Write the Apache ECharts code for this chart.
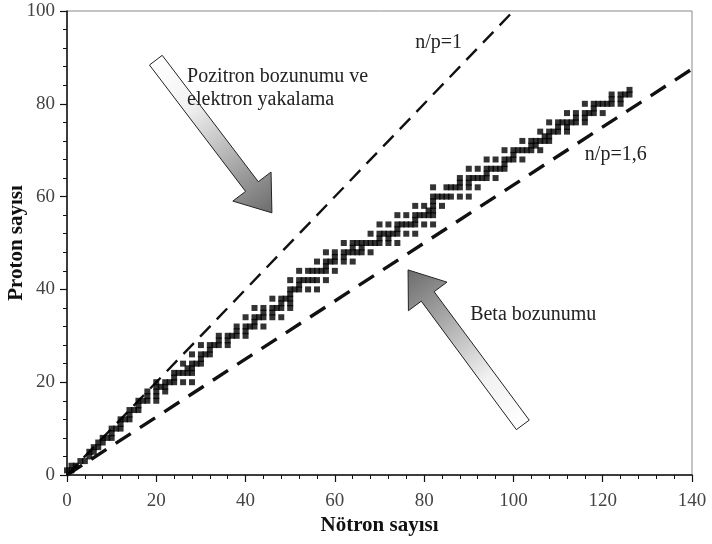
<!DOCTYPE html>
<html>
<head>
<meta charset="utf-8">
<script src="https://cdn.jsdelivr.net/npm/echarts@6/dist/echarts.min.js"></script>
<style>
  html, body { margin: 0; padding: 0; background: #ffffff; }
  #chart { width: 712px; height: 544px; }
</style>
</head>
<body>
<div id="chart"></div>
<script>
// Stable nuclides: neutron numbers N for each proton number Z.
// Light: Z = 1..28
const stableLight = [
  [0, 1], [1, 2], [3, 4], [5], [5, 6], [6, 7], [7, 8], [8, 9, 10], [10], [10, 11, 12],
  [12], [12, 13, 14], [14], [14, 15, 16], [16], [16, 17, 18, 20], [18, 20], [18, 20, 22],
  [20, 21, 22], [20, 22, 23, 24, 26, 28], [24], [24, 25, 26, 27, 28], [27, 28],
  [26, 28, 29, 30], [30], [28, 30, 31, 32], [32], [30, 32, 33, 34, 36]
];
// Medium: Z = 29..56
const stableMedium = [
  [34, 36], [34, 36, 37, 38, 40], [38, 40], [38, 40, 41, 42, 44], [42],
  [40, 42, 43, 44, 46, 48], [44, 46], [42, 44, 46, 47, 48, 50], [48, 50], [46, 48, 49, 50],
  [50], [50, 51, 52, 54, 56], [52], [50, 52, 53, 54, 55, 56, 58], [],
  [52, 54, 55, 56, 57, 58, 60], [58], [56, 58, 59, 60, 62, 64], [60, 62],
  [58, 60, 62, 63, 64, 65, 66, 68], [64, 66], [62, 64, 65, 66, 67, 68, 69, 70, 72, 74],
  [70, 72], [68, 70, 71, 72, 73, 74, 76, 78], [74], [70, 72, 74, 75, 76, 77, 78, 80, 82],
  [78], [74, 76, 78, 79, 80, 81, 82]
];
// Heavy: Z = 57..83
const stableHeavy = [
  [81, 82], [78, 80, 82, 84], [82], [82, 83, 84, 85, 86, 88, 90], [],
  [82, 85, 86, 87, 88, 90, 92], [88, 90], [88, 90, 91, 92, 93, 94, 96], [94],
  [90, 92, 94, 95, 96, 97, 98], [98], [94, 96, 98, 99, 100, 102], [100],
  [98, 100, 101, 102, 103, 104, 106], [104, 105], [102, 104, 105, 106, 107, 108], [107, 108],
  [106, 108, 109, 110, 112], [110, 112], [108, 110, 111, 112, 113, 114, 116], [114, 116],
  [112, 114, 116, 117, 118, 120], [118], [116, 118, 119, 120, 121, 122, 124], [122, 124],
  [122, 124, 125, 126], [126]
];

// Reference lines: Z = N (n/p = 1) and Z = N / 1.6 (n/p = 1,6)
const ratioOneN = [0, 100];
const ratioOneZ = [0, 100];
const ratioWideN = [0, 140];
const ratioWideZ = [0, 87.5];

// Axis ticks
const xTicks = [0, 20, 40, 60, 80, 100, 120, 140];
const yTicks = [0, 20, 40, 60, 80, 100];

function flatten(groups, firstZ) {
  const out = [];
  groups.forEach(function (ns, i) {
    ns.forEach(function (n) { out.push([n, firstZ + i]); });
  });
  return out;
}
const nuclides = flatten(stableLight, 1)
  .concat(flatten(stableMedium, 29))
  .concat(flatten(stableHeavy, 57));

const SERIF = '"Liberation Serif", "Times New Roman", serif';

const chart = echarts.init(document.getElementById('chart'), null, { renderer: 'canvas' });

function axisCommon(ticks) {
  return {
    type: 'value',
    min: ticks[0],
    max: ticks[ticks.length - 1],
    interval: ticks[1] - ticks[0],
    nameLocation: 'middle',
    nameMoveOverlap: false,
    nameTextStyle: { fontFamily: SERIF, fontWeight: 'bold', fontSize: 21, color: '#111' },
    axisLine: { show: true, onZero: false, lineStyle: { color: '#111', width: 1.5 } },
    axisTick: { show: true, inside: false, length: 7, lineStyle: { color: '#111', width: 1.2 } },
    minorTick: { show: true, splitNumber: 5, length: 4, lineStyle: { color: '#111', width: 1 } },
    splitLine: { show: false },
    minorSplitLine: { show: false },
    axisLabel: {
      fontFamily: SERIF, fontSize: 19, color: '#444',
      showMinLabel: true, showMaxLabel: true, hideOverlap: false
    }
  };
}

const xAxis = axisCommon(xTicks);
xAxis.name = 'Nötron sayısı';
xAxis.nameGap = 40;
xAxis.axisLabel.margin = 17;

const yAxis = axisCommon(yTicks);
yAxis.name = 'Proton sayısı';
yAxis.nameGap = 40;
yAxis.axisLabel.margin = 12;

chart.setOption({
  animation: false,
  backgroundColor: '#ffffff',
  grid: {
    left: 67, right: 20, top: 11, bottom: 69,
    containLabel: false,
    outerBoundsMode: 'none',
    show: true, borderColor: '#888', borderWidth: 1, backgroundColor: 'transparent'
  },
  xAxis: xAxis,
  yAxis: yAxis,
  series: [
    {
      type: 'line',
      data: ratioOneN.map(function (n, i) { return [n, ratioOneZ[i]]; }),
      showSymbol: false,
      silent: true,
      lineStyle: { color: '#111', width: 2.4, type: [15, 9] },
      z: 2
    },
    {
      type: 'line',
      data: ratioWideN.map(function (n, i) { return [n, ratioWideZ[i]]; }),
      showSymbol: false,
      silent: true,
      lineStyle: { color: '#111', width: 3.4, type: [18, 11] },
      z: 2
    },
    {
      type: 'scatter',
      data: nuclides,
      symbol: 'rect',
      symbolSize: 6,
      silent: true,
      itemStyle: { color: '#000' },
      z: 3
    }
  ]
});

// Annotation arrows and texts, anchored in data space
function px(pt) { return chart.convertToPixel({ gridIndex: 0 }, pt); }

function arrowShape(tail, tip, shaftHalf, headHalf, headLen) {
  const dx = tip[0] - tail[0], dy = tip[1] - tail[1];
  const len = Math.sqrt(dx * dx + dy * dy);
  const ux = dx / len, uy = dy / len;
  const qx = -uy, qy = ux;
  const bx = tip[0] - ux * headLen, by = tip[1] - uy * headLen;
  return [
    [tail[0] + qx * shaftHalf, tail[1] + qy * shaftHalf],
    [bx + qx * shaftHalf, by + qy * shaftHalf],
    [bx + qx * headHalf, by + qy * headHalf],
    [tip[0], tip[1]],
    [bx - qx * headHalf, by - qy * headHalf],
    [bx - qx * shaftHalf, by - qy * shaftHalf],
    [tail[0] - qx * shaftHalf, tail[1] - qy * shaftHalf]
  ];
}

function arrow(tailData, tipData) {
  const tail = px(tailData), tip = px(tipData);
  return {
    type: 'polygon',
    silent: true,
    z: 10,
    shape: { points: arrowShape(tail, tip, 8, 24, 33) },
    style: {
      fill: new echarts.graphic.LinearGradient(tail[0], tail[1], tip[0], tip[1], [
        { offset: 0, color: '#ffffff' },
        { offset: 0.3, color: '#f2f2f2' },
        { offset: 1, color: '#6c6c6c' }
      ], true),
      stroke: '#222',
      lineWidth: 1
    }
  };
}

function label(text, at) {
  const p = px(at);
  return {
    type: 'text',
    silent: true,
    z: 11,
    style: {
      text: text, x: p[0], y: p[1],
      font: '20px ' + SERIF,
      fill: '#222',
      align: 'left', verticalAlign: 'middle',
      textAlign: 'left', textVerticalAlign: 'middle'
    }
  };
}

chart.setOption({
  graphic: [
    arrow([19.9, 89.4], [45.9, 56.5]),
    arrow([102.1, 10.8], [76.4, 44.2]),
    label('Pozitron bozunumu ve', [26.9, 85.8]),
    label('elektron yakalama', [26.9, 80.8]),
    label('n/p=1', [78.0, 93.1]),
    label('n/p=1,6', [116.0, 69.0]),
    label('Beta bozunumu', [90.3, 34.5])
  ]
});
</script>
</body>
</html>
